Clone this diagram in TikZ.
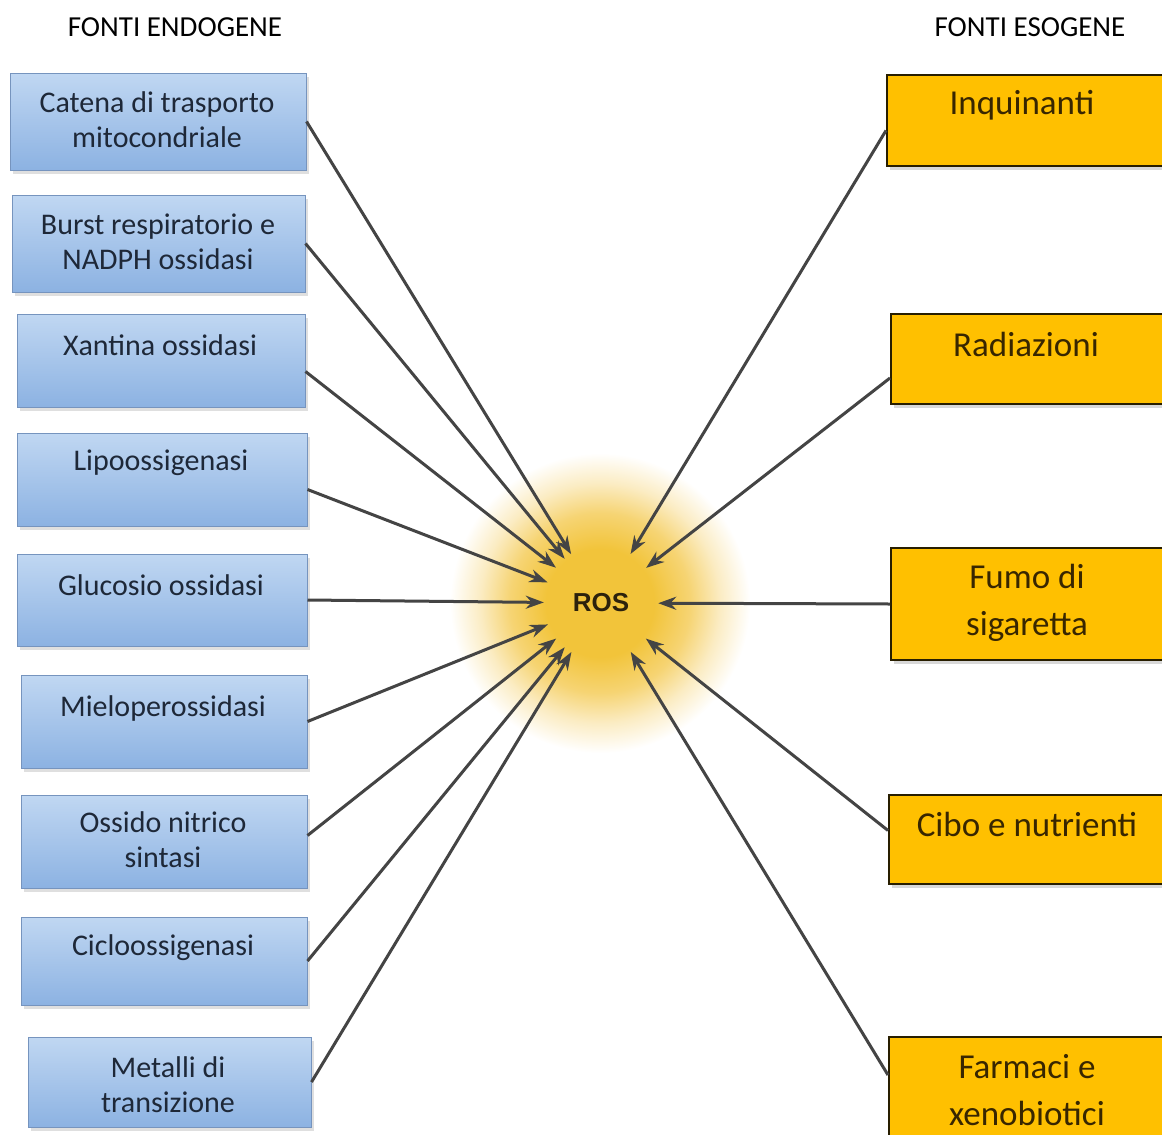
\documentclass[tikz,border=0pt]{standalone}
\usepackage{fontspec}
\setmainfont{Carlito}
\newfontfamily\rosfont{Liberation Sans}
\usetikzlibrary{arrows.meta,shadows}

\definecolor{bluetop}{RGB}{192,215,242}
\definecolor{bluebot}{RGB}{140,178,226}
\definecolor{blueedge}{RGB}{118,148,190}
\definecolor{bluetext}{RGB}{30,40,56}
\definecolor{amber}{RGB}{255,192,0}
\definecolor{amberedge}{RGB}{40,30,0}
\definecolor{ambertext}{RGB}{56,38,0}
\definecolor{arrowgray}{RGB}{68,68,68}
\definecolor{glowcore}{RGB}{242,196,58}
\definecolor{glowmid}{RGB}{246,212,115}
\definecolor{glowpale}{RGB}{251,236,195}
\definecolor{rostext}{RGB}{45,34,12}

% radial glow; the path's bounding box maps onto the inner 50bp square
\pgfdeclareradialshading{rosglow}{\pgfpoint{0bp}{0bp}}{%
  color(0bp)=(glowcore); color(9bp)=(glowcore); color(15bp)=(glowmid);
  color(20bp)=(glowpale); color(25bp)=(white); color(50bp)=(white)}

\tikzset{
  endo/.style={rectangle, inner sep=0pt, top color=bluetop, bottom color=bluebot,
    draw=blueedge, line width=1pt,
    drop shadow={shadow xshift=3pt, shadow yshift=-4pt, opacity=0.25}},
  eso/.style={rectangle, inner sep=0pt, fill=amber, draw=amberedge, line width=1.5pt,
    drop shadow={shadow xshift=3pt, shadow yshift=-4pt, opacity=0.3}},
  endotext/.style={align=center, inner sep=0pt, text=bluetext,
    font=\fontsize{30}{35}\selectfont},
  esotext/.style={align=center, inner sep=0pt, text=ambertext,
    font=\fontsize{35}{47}\selectfont},
  head/.style={inner sep=0pt, text=black, font=\fontsize{29}{32}\selectfont},
  feed/.style={draw=arrowgray, line width=3pt,
    -{Stealth[length=18pt, width=13pt]}},
}

\begin{document}
\begin{tikzpicture}[x=1pt, y=-1pt]
\useasboundingbox (0,0) rectangle (1162,1135);
\fill[white] (0,0) rectangle (1162,1135);

% central glow
\shade[shading=rosglow] (600,603) circle (150);
\node[circle, minimum size=114pt, inner sep=0pt, text=rostext,
  font=\rosfont\bfseries\fontsize{26}{28}\selectfont] (ros) at (601,603) {ROS};

% headers
\node[head] (hendo) at (175,27) {FONTI ENDOGENE};
\node[head] (heso) at (1030,27) {FONTI ESOGENE};

% endogenous sources
\node[endo, minimum width=296pt, minimum height=97pt] (e1) at (158,121.5) {};
\node[endo, minimum width=293pt, minimum height=97pt] (e2) at (158.5,243.5) {};
\node[endo, minimum width=288pt, minimum height=93pt] (e3) at (161,360.5) {};
\node[endo, minimum width=290pt, minimum height=93pt] (e4) at (162,479.5) {};
\node[endo, minimum width=290pt, minimum height=92pt] (e5) at (162,600) {};
\node[endo, minimum width=286pt, minimum height=93pt] (e6) at (164,721.5) {};
\node[endo, minimum width=286pt, minimum height=93pt] (e7) at (164,841.5) {};
\node[endo, minimum width=286pt, minimum height=88pt] (e8) at (164,961) {};
\node[endo, minimum width=283pt, minimum height=90pt] (e9) at (169.5,1082) {};

\node[endotext] (t1) at (157,120) {Catena di trasporto\\mitocondriale};
\node[endotext] (t2) at (158,242) {Burst respiratorio e\\NADPH ossidasi};
\node[endotext] (t3) at (160,345) {Xantina ossidasi};
\node[endotext] (t4) at (161,463) {Lipoossigenasi};
\node[endotext] (t5) at (161,585) {Glucosio ossidasi};
\node[endotext] (t6) at (163,708) {Mieloperossidasi};
\node[endotext] (t7) at (163,840) {Ossido nitrico\\sintasi};
\node[endotext] (t8) at (163,948) {Cicloossigenasi};
\node[endotext] (t9) at (168,1085) {Metalli di\\transizione};

% exogenous sources
\node[eso, minimum width=282pt, minimum height=91pt, anchor=west] (x1) at (886,120.5) {};
\node[eso, minimum width=278pt, minimum height=90pt, anchor=west] (x2) at (890,359) {};
\node[eso, minimum width=278pt, minimum height=112pt, anchor=west] (x3) at (890,604) {};
\node[eso, minimum width=280pt, minimum height=89pt, anchor=west] (x4) at (888,839.5) {};
\node[eso, minimum width=280pt, minimum height=110pt, anchor=west] (x5) at (888,1092) {};

\node[esotext] (s1) at (1022,105) {Inquinanti};
\node[esotext] (s2) at (1026,344) {Radiazioni};
\node[esotext] (s3) at (1027,603) {Fumo di\\sigaretta};
\node[esotext] (s4) at (1027,824) {Cibo e nutrienti};
\node[esotext] (s5) at (1027,1090) {Farmaci e\\xenobiotici};

% arrows into ROS
\draw[feed] (e1.east) -- (ros);
\draw[feed] (e2.east) -- (ros);
\draw[feed] ([yshift=-11pt]e3.east) -- (ros);
\draw[feed] ([yshift=-10pt]e4.east) -- (ros);
\draw[feed] (e5.east) -- (ros);
\draw[feed] (e6.east) -- (ros);
\draw[feed] ([yshift=6pt]e7.east) -- (ros);
\draw[feed] (e8.east) -- (ros);
\draw[feed] (e9.east) -- (ros);

\draw[feed] ([yshift=-10pt]x1.west) -- (ros);
\draw[feed] ([yshift=-19pt]x2.west) -- (ros);
\draw[feed] (x3.west) -- (ros);
\draw[feed] ([yshift=9pt]x4.west) -- (ros);
\draw[feed] ([yshift=17pt]x5.west) -- (ros);
\end{tikzpicture}
\end{document}
